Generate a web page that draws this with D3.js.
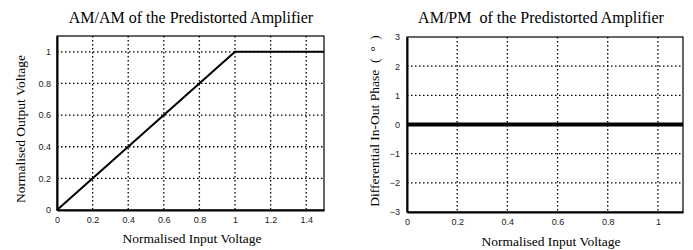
<!DOCTYPE html>
<html>
<head>
<meta charset="utf-8">
<script src="https://cdn.jsdelivr.net/npm/d3@7"></script>
<style>
  body { margin: 0; background: #fff; }
  .tick text { font-family: "Liberation Sans", Arial, sans-serif; font-size: 9px; }
  .lbl { font-family: "Liberation Serif", "Times New Roman", serif; font-size: 13.5px; white-space: pre; }
  .ttl { font-family: "Liberation Serif", "Times New Roman", serif; font-size: 16px; white-space: pre; }
</style>
</head>
<body>
<script>

  // AM/AM curve (left)
  var amamIn  = [0, 1, 1.5];
  var amamOut = [0, 1, 1];
  var amamXTicks = [0, 0.2, 0.4, 0.6, 0.8, 1, 1.2, 1.4];
  var amamYTicks = [0, 0.2, 0.4, 0.6, 0.8, 1];

  // AM/PM curve (right)
  var ampmIn    = [0, 1.1];
  var ampmPhase = [0, 0];
  var ampmXTicks = [0, 0.2, 0.4, 0.6, 0.8, 1];
  var ampmYTicks = [-3, -2, -1, 0, 1, 2, 3];

  var svg = d3.select('body')
              .append('svg')
              .attr('width', 693)
              .attr('height', 250);

  /////////////////
  // Draw a plot //
  /////////////////

  var drawPlot = function(o){
    var x = d3.scaleLinear().domain(o.xDomain).range([o.left, o.right]);
    var y = d3.scaleLinear().domain(o.yDomain).range([o.bottom, o.top]);
    var g = svg.append('g');

    // dotted grid
    g.selectAll('.vg').data(o.xTicks.filter(function(t){ return t > o.xDomain[0]; }))
     .enter().append('line')
     .attr('x1', function(d){ return x(d); }).attr('x2', function(d){ return x(d); })
     .attr('y1', o.top).attr('y2', o.bottom)
     .attr('stroke', '#000').attr('stroke-width', 1.3).attr('stroke-dasharray', '1.5,2.5');
    g.selectAll('.hg').data(o.yTicks.filter(function(t){ return t > o.yDomain[0] && t < o.yDomain[1]; }))
     .enter().append('line')
     .attr('y1', function(d){ return y(d); }).attr('y2', function(d){ return y(d); })
     .attr('x1', o.left).attr('x2', o.right)
     .attr('stroke', '#000').attr('stroke-width', 1.3).attr('stroke-dasharray', '1.5,2.5');

    // frame
    g.append('rect')
     .attr('x', o.left).attr('y', o.top)
     .attr('width', o.right - o.left).attr('height', o.bottom - o.top)
     .attr('fill', 'none').attr('stroke', '#000').attr('stroke-width', 1.2);

    // axes
    g.append('g').attr('transform', 'translate(0,' + o.bottom + ')')
     .call(d3.axisBottom(x).tickValues(o.xTicks).tickSize(0).tickPadding(7).tickFormat(d3.format('~g')))
     .call(function(a){ a.select('.domain').attr('stroke-width', 2); });
    g.append('g').attr('transform', 'translate(' + o.left + ',0)')
     .call(d3.axisLeft(y).tickValues(o.yTicks).tickSize(0).tickPadding(o.yPad).tickFormat(d3.format('~g')))
     .call(function(a){ a.select('.domain').attr('stroke-width', 2); });
    g.selectAll('.tick text').attr('fill', '#222');

    // curve
    var pts = o.xs.map(function(v, i){ return [v, o.ys[i]]; });
    g.append('path').datum(pts)
     .attr('d', d3.line().x(function(d){ return x(d[0]); }).y(function(d){ return y(d[1]); }))
     .attr('fill', 'none').attr('stroke', '#000').attr('stroke-width', o.lineW);

    // texts
    svg.append('text').attr('class', 'ttl').attr('x', o.titleX).attr('y', 23)
       .attr('text-anchor', 'middle').text(o.title);
    svg.append('text').attr('class', 'lbl').attr('x', o.xLabX).attr('y', o.xLabY)
       .attr('text-anchor', 'middle').text(o.xLabel);
    svg.append('text').attr('class', 'lbl')
       .attr('transform', 'translate(' + o.yLabX + ',' + o.yLabMid + ') rotate(-90)')
       .attr('text-anchor', 'middle').text(o.yLabel);
  };

  drawPlot({
    left: 57, right: 324, top: 36, bottom: 210,
    xDomain: [0, 1.5], yDomain: [0, 1.1],
    xTicks: amamXTicks, yTicks: amamYTicks, yPad: 6,
    xs: amamIn, ys: amamOut, lineW: 2,
    title: 'AM/AM of the Predistorted Amplifier', titleX: 191,
    xLabel: 'Normalised Input Voltage', xLabX: 192, xLabY: 243,
    yLabel: 'Normalised Output Voltage', yLabX: 25, yLabMid: 129
  });

  drawPlot({
    left: 407, right: 683, top: 37, bottom: 212,
    xDomain: [0, 1.1], yDomain: [-3, 3],
    xTicks: ampmXTicks, yTicks: ampmYTicks, yPad: 7,
    xs: ampmIn, ys: ampmPhase, lineW: 4,
    title: 'AM/PM  of the Predistorted Amplifier', titleX: 541,
    xLabel: 'Normalised Input Voltage', xLabX: 551, xLabY: 246,
    yLabel: 'Differential In-Out Phase  (  \u00b0  )', yLabX: 379, yLabMid: 121
  });

</script>
</body>
</html>
